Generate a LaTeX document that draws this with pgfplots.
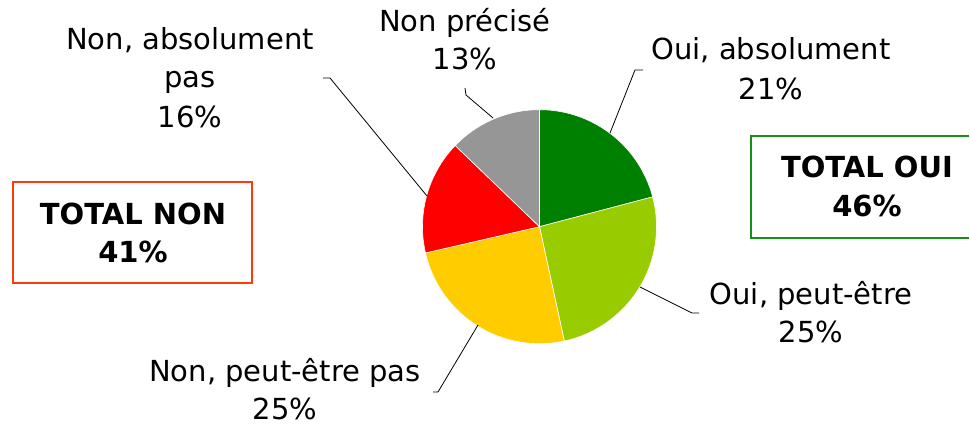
\documentclass[border=0pt]{standalone}
\usepackage{pgfplots}
\pgfplotsset{compat=1.18}
\usepackage{fontspec}
\setmainfont{DejaVu Sans}
\definecolor{cA}{HTML}{008000}
\definecolor{cB}{HTML}{99CC00}
\definecolor{cC}{HTML}{FFCC00}
\definecolor{cD}{HTML}{FF0000}
\definecolor{cE}{HTML}{969696}
\definecolor{nonbox}{HTML}{FF3A0A}
\definecolor{ouibox}{HTML}{159015}
% slice values in percent (clockwise from the top)
\def\vA{20.9}% Oui, absolument
\def\vB{25.7}% Oui, peut-etre
\def\vC{24.8}% Non, peut-etre pas
\def\vD{15.8}% Non, absolument pas
\def\vE{12.8}% Non precise
\pgfmathsetmacro\aA{90}
\pgfmathsetmacro\aB{\aA-3.6*\vA}
\pgfmathsetmacro\aC{\aB-3.6*\vB}
\pgfmathsetmacro\aD{\aC-3.6*\vC}
\pgfmathsetmacro\aE{\aD-3.6*\vD}
\pgfmathsetmacro\aF{\aE-3.6*\vE}
\def\cx{539.5}\def\cy{199.3}\def\R{117}
\begin{document}
\begin{tikzpicture}[lbl/.style={anchor=base,font=\fontsize{29}{38}\selectfont},
  blbl/.style={anchor=base,font=\fontsize{29}{38}\selectfont\bfseries}]
\begin{axis}[scale only axis, width=970pt, height=426pt,
  xmin=0, xmax=970, ymin=0, ymax=426, hide axis, clip=false]
\addplot[fill=cA, draw=white, line width=0.6pt, domain=\aB:\aA, samples=80, variable=\t]
  ({\cx+\R*cos(t)},{\cy+\R*sin(t)}) -- (axis cs:\cx,\cy) -- cycle;
\addplot[fill=cB, draw=white, line width=0.6pt, domain=\aC:\aB, samples=80, variable=\t]
  ({\cx+\R*cos(t)},{\cy+\R*sin(t)}) -- (axis cs:\cx,\cy) -- cycle;
\addplot[fill=cC, draw=white, line width=0.6pt, domain=\aD:\aC, samples=80, variable=\t]
  ({\cx+\R*cos(t)},{\cy+\R*sin(t)}) -- (axis cs:\cx,\cy) -- cycle;
\addplot[fill=cD, draw=white, line width=0.6pt, domain=\aE:\aD, samples=80, variable=\t]
  ({\cx+\R*cos(t)},{\cy+\R*sin(t)}) -- (axis cs:\cx,\cy) -- cycle;
\addplot[fill=cE, draw=white, line width=0.6pt, domain=\aF:\aE, samples=80, variable=\t]
  ({\cx+\R*cos(t)},{\cy+\R*sin(t)}) -- (axis cs:\cx,\cy) -- cycle;
% leader lines
\draw[black, line width=0.8pt] (axis cs:465,338) -- (axis cs:466,331) -- (axis cs:493,308);
\draw[black, line width=0.8pt] (axis cs:643,356) -- (axis cs:635,356) -- (axis cs:610,293);
\draw[black, line width=0.8pt] (axis cs:323,348) -- (axis cs:330,348) -- (axis cs:427,230);
\draw[black, line width=0.8pt] (axis cs:640,139) -- (axis cs:692,113) -- (axis cs:699,113);
\draw[black, line width=0.8pt] (axis cs:433,34) -- (axis cs:438,34) -- (axis cs:478,101);
% labels
\node[lbl] at (axis cs:465,394) {Non précisé};
\node[lbl] at (axis cs:465,356) {13\%};
\node[lbl] at (axis cs:190,376) {Non, absolument};
\node[lbl] at (axis cs:190,338) {pas};
\node[lbl] at (axis cs:190,298) {16\%};
\node[lbl] at (axis cs:771,366) {Oui, absolument};
\node[lbl] at (axis cs:771,326) {21\%};
\node[lbl] at (axis cs:811,121) {Oui, peut-être};
\node[lbl] at (axis cs:811,83) {25\%};
\node[lbl] at (axis cs:285,44) {Non, peut-être pas};
\node[lbl] at (axis cs:285,6) {25\%};
% total boxes
\draw[nonbox, line width=1.3pt] (axis cs:13,244) rectangle (axis cs:252,143);
\node[blbl] at (axis cs:133,201) {TOTAL NON};
\node[blbl] at (axis cs:133,163) {41\%};
\draw[ouibox, line width=1.3pt] (axis cs:969.4,290) -- (axis cs:751,290) -- (axis cs:751,188) -- (axis cs:969.4,188);
\node[blbl] at (axis cs:867,248) {TOTAL OUI};
\node[blbl] at (axis cs:867,209) {46\%};
\coordinate (bbsw) at (axis cs:0,0);
\coordinate (bbne) at (axis cs:970,426);
\end{axis}
\pgfresetboundingbox
\useasboundingbox (bbsw) rectangle (bbne);
\end{tikzpicture}
\end{document}
